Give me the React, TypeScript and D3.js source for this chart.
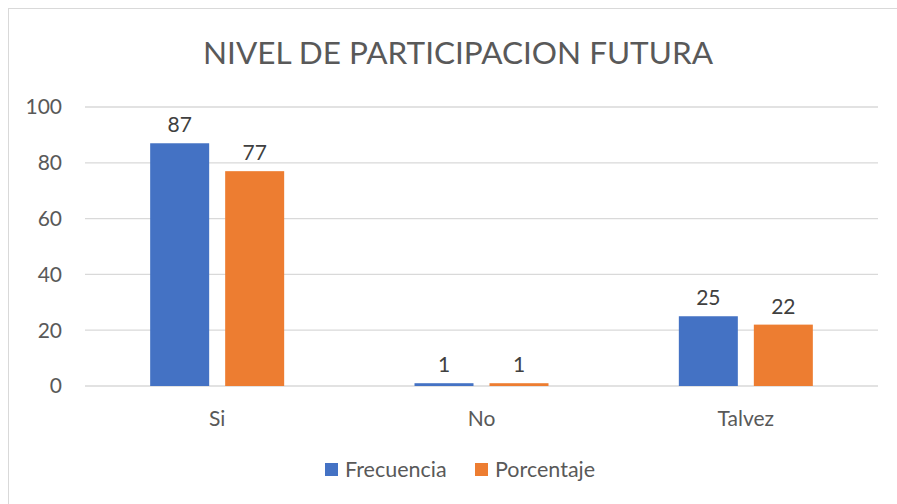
import React from "react";
import * as d3 from "d3";

const categories = ["Si", "No", "Talvez"];
const frecuencia = [87, 1, 25];
const porcentaje = [77, 1, 22];
const seriesNames = ["Frecuencia", "Porcentaje"];
const yTicks = [0, 20, 40, 60, 80, 100];
const colors = ["#4472C4", "#ED7D31"];

const W = 897;
const H = 504;
const font = "Lato, 'Open Sans', sans-serif";

export default function App() {
  const x0 = d3.scaleBand<string>().domain(categories).range([85, 878]).paddingInner(0).paddingOuter(0);
  const y = d3.scaleLinear().domain([0, 100]).range([386, 107]);
  const barW = 59;
  const gap = 16;
  const series = [frecuencia, porcentaje];
  return (
    <svg width={W} height={H} style={{ position: "absolute", left: 0, top: 0, fontFamily: font }}>
      <rect x={0} y={0} width={W} height={H} fill="#fff" />
      <line x1={8.5} y1={8} x2={8.5} y2={H} stroke="#d9d9d9" />
      <line x1={8} y1={8.5} x2={W} y2={8.5} stroke="#d9d9d9" />
      <text x={458} y={64} textAnchor="middle" fontSize={31.5} fill="#595959">
        NIVEL DE PARTICIPACION FUTURA
      </text>
      {yTicks.map((t) => (
        <g key={t}>
          <line x1={85} x2={878} y1={y(t)} y2={y(t)} stroke="#d9d9d9" strokeWidth={1.3} />
          <text x={62} y={y(t)} dy="0.35em" textAnchor="end" fontSize={21} fill="#595959">
            {t}
          </text>
        </g>
      ))}
      {categories.map((c, i) => {
        const cx = (x0(c) as number) + x0.bandwidth() / 2;
        return (
          <g key={c}>
            {series.map((s, j) => {
              const bx = cx - gap / 2 - barW + j * (barW + gap);
              return (
                <g key={j}>
                  <rect x={bx} y={y(s[i])} width={barW} height={y(0) - y(s[i])} fill={colors[j]} />
                  <text x={bx + barW / 2} y={y(s[i]) - 11} textAnchor="middle" fontSize={21} fill="#404040">
                    {s[i]}
                  </text>
                </g>
              );
            })}
            <text x={cx} y={426} textAnchor="middle" fontSize={21} fill="#595959">
              {c}
            </text>
          </g>
        );
      })}
      {seriesNames.map((n, j) => {
        const lx = [325, 475][j];
        return (
          <g key={n}>
            <rect x={lx} y={463} width={13} height={13} fill={colors[j]} />
            <text x={lx + 20} y={477} fontSize={21.5} fill="#595959">
              {n}
            </text>
          </g>
        );
      })}
    </svg>
  );
}
